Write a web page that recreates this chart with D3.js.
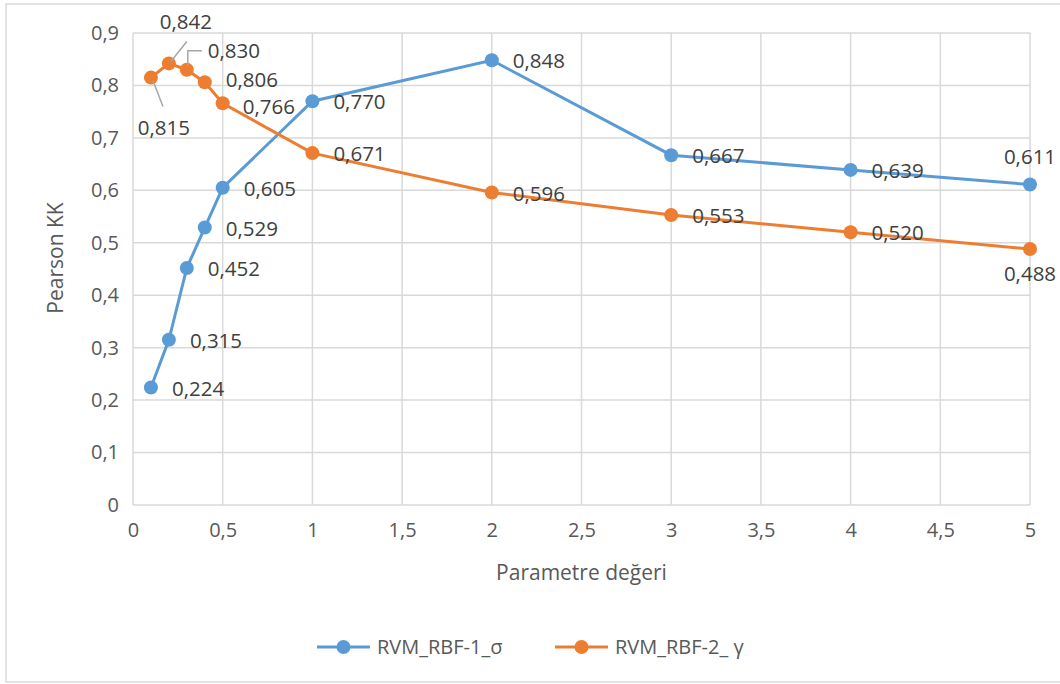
<!DOCTYPE html>
<html lang="tr">
<head>
<meta charset="utf-8">
<title>Pearson KK</title>
<script src="https://d3js.org/d3.v7.min.js"></script>
<style>
  body { margin: 0; background: #fff; }
  svg { display: block; font-family: "Open Sans", sans-serif; }
  .grid line { stroke: #d9d9d9; stroke-width: 1.5; }
  .axis path, .axis line { display: none; }
  .axis text { fill: #595959; font-size: 20px; font-family: "Open Sans", sans-serif; }
  .lbl { fill: #404040; font-size: 20.5px; }
</style>
</head>
<body>
<div id="chart"></div>
<script>
const params = [0.1, 0.2, 0.3, 0.4, 0.5, 1, 2, 3, 4, 5];
const sigmaVals = [0.224, 0.315, 0.452, 0.529, 0.605, 0.770, 0.848, 0.667, 0.639, 0.611];
const gammaVals = [0.815, 0.842, 0.830, 0.806, 0.766, 0.671, 0.596, 0.553, 0.520, 0.488];
const seriesNames = ["RVM_RBF-1_σ", "RVM_RBF-2_ γ"];
const xTicks = [0, 0.5, 1, 1.5, 2, 2.5, 3, 3.5, 4, 4.5, 5];
const yTicks = [0, 0.1, 0.2, 0.3, 0.4, 0.5, 0.6, 0.7, 0.8, 0.9];

const w = 1060, h = 684;
const plotL = 133, plotR = 1030, plotT = 33, plotB = 505;
const colors = ["#5b9bd5", "#ed7d31"];

const fmt = v => d3.format(".3f")(v).replace(".", ",");
const fmtTick = v => String(v).replace(".", ",");

const x = d3.scaleLinear().domain([0, 5]).range([plotL, plotR]);
const y = d3.scaleLinear().domain([0, 0.9]).range([plotB, plotT]);

const svg = d3.select("#chart").append("svg")
  .attr("width", w).attr("height", h);

// outer frame
svg.append("rect")
  .attr("x", 6).attr("y", 4).attr("width", 1070).attr("height", 678)
  .attr("fill", "none").attr("stroke", "#d9d9d9").attr("stroke-width", 1.5);

// gridlines
const grid = svg.append("g").attr("class", "grid");
grid.selectAll(".h").data(yTicks).enter().append("line")
  .attr("x1", plotL).attr("x2", plotR)
  .attr("y1", d => y(d)).attr("y2", d => y(d));
grid.selectAll(".v").data(xTicks).enter().append("line")
  .attr("y1", plotT).attr("y2", plotB)
  .attr("x1", d => x(d)).attr("x2", d => x(d));

// axes
svg.append("g").attr("class", "axis")
  .attr("transform", "translate(0," + plotB + ")")
  .call(d3.axisBottom(x).tickValues(xTicks).tickFormat(fmtTick).tickSize(0).tickPadding(18));
svg.append("g").attr("class", "axis")
  .attr("transform", "translate(" + plotL + ",0)")
  .call(d3.axisLeft(y).tickValues(yTicks).tickFormat(fmtTick).tickSize(0).tickPadding(14));

// axis titles
svg.append("text")
  .attr("x", (plotL + plotR) / 2).attr("y", 580)
  .attr("text-anchor", "middle").attr("fill", "#595959").attr("font-size", 21)
  .text("Parametre değeri");
svg.append("text")
  .attr("transform", "translate(63,258) rotate(-90)")
  .attr("text-anchor", "middle").attr("fill", "#595959").attr("font-size", 21)
  .text("Pearson KK");

const series = [sigmaVals, gammaVals].map((vals, i) =>
  params.map((p, j) => ({ x: p, y: vals[j], s: i, j: j })));

const line = d3.line().x(d => x(d.x)).y(d => y(d.y));

series.forEach((pts, i) => {
  svg.append("path").datum(pts)
    .attr("fill", "none").attr("stroke", colors[i]).attr("stroke-width", 3)
    .attr("d", line);
  svg.append("g").selectAll("circle").data(pts).enter().append("circle")
    .attr("cx", d => x(d.x)).attr("cy", d => y(d.y)).attr("r", 7)
    .attr("fill", colors[i]);
});

// label placement: default to the right of the point
const place = (d) => {
  if (d.s === 0 && d.j === 9) return { dx: 0, dy: -28, a: "middle" };
  if (d.s === 1 && d.j === 9) return { dx: 0, dy: 25, a: "middle" };
  if (d.s === 1 && d.j === 0) return { dx: 13, dy: 50, a: "middle" };
  if (d.s === 1 && d.j === 1) return { dx: 17, dy: -42, a: "middle" };
  if (d.s === 1 && d.j === 2) return { dx: 21, dy: -19, a: "start" };
  if (d.s === 1 && d.j === 3) return { dx: 21, dy: -2, a: "start" };
  if (d.s === 1 && d.j === 4) return { dx: 20, dy: 4, a: "start" };
  return { dx: 21, dy: 1, a: "start" };
};

const labels = svg.append("g");
series.forEach(pts => {
  labels.selectAll(null).data(pts).enter().append("text")
    .attr("class", "lbl")
    .attr("x", d => x(d.x) + place(d).dx)
    .attr("y", d => y(d.y) + place(d).dy)
    .attr("dy", "0.35em")
    .attr("text-anchor", d => place(d).a)
    .text(d => fmt(d.y));
});

// leader lines for the crowded orange labels
const lead = svg.append("g").attr("fill", "none").attr("stroke", "#a6a6a6").attr("stroke-width", 1.5);
const o = series[1];
lead.append("line")
  .attr("x1", x(o[0].x) + 2).attr("y1", y(o[0].y) + 3)
  .attr("x2", x(o[0].x) + 12).attr("y2", y(o[0].y) + 29);
lead.append("line")
  .attr("x1", x(o[1].x) + 2).attr("y1", y(o[1].y) - 2)
  .attr("x2", x(o[1].x) + 18).attr("y2", y(o[1].y) - 22);
lead.append("polyline")
  .attr("points", [
    [x(o[2].x) + 1, y(o[2].y) - 4],
    [x(o[2].x) + 1, y(o[2].y) - 19],
    [x(o[2].x) + 15, y(o[2].y) - 19]
  ].join(" "));

// legend
const legend = svg.append("g");
const legX = [317, 555];
seriesNames.forEach((name, i) => {
  const g = legend.append("g").attr("transform", "translate(" + legX[i] + ",647)");
  g.append("line").attr("x1", 0).attr("x2", 53)
    .attr("stroke", colors[i]).attr("stroke-width", 3);
  g.append("circle").attr("cx", 26.5).attr("r", 7).attr("fill", colors[i]);
  g.append("text").attr("x", 60).attr("dy", "0.35em")
    .attr("fill", "#595959").attr("font-size", 20).text(name);
});
</script>
</body>
</html>
